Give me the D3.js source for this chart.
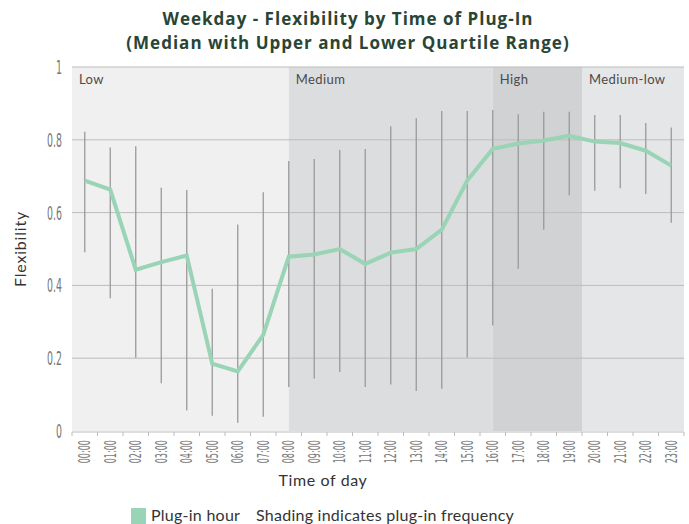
<!DOCTYPE html>
<html>
<head>
<meta charset="utf-8">
<script src="https://cdn.jsdelivr.net/npm/d3@7"></script>
<style>
  body { margin: 0; background: #fff; }
  svg { display: block; font-family: Lato, "Open Sans", sans-serif; }
</style>
</head>
<body>
<div id="chart"></div>
<script>
/** Data **/
const hours = ['00:00', '01:00', '02:00', '03:00', '04:00', '05:00', '06:00', '07:00',
  '08:00', '09:00', '10:00', '11:00', '12:00', '13:00', '14:00', '15:00',
  '16:00', '17:00', '18:00', '19:00', '20:00', '21:00', '22:00', '23:00'];
const median = [0.688, 0.663, 0.443, 0.464, 0.482, 0.185, 0.164, 0.264,
  0.479, 0.485, 0.5, 0.459, 0.49, 0.5, 0.553, 0.688,
  0.775, 0.79, 0.798, 0.811, 0.795, 0.791, 0.77, 0.729];
const upper = [0.822, 0.779, 0.782, 0.668, 0.662, 0.391, 0.567, 0.656,
  0.742, 0.747, 0.772, 0.775, 0.837, 0.859, 0.879, 0.879,
  0.882, 0.87, 0.877, 0.877, 0.868, 0.868, 0.846, 0.834];
const lower = [0.491, 0.365, 0.201, 0.131, 0.056, 0.042, 0.023, 0.039,
  0.121, 0.144, 0.162, 0.121, 0.128, 0.11, 0.116, 0.202,
  0.29, 0.446, 0.553, 0.648, 0.66, 0.667, 0.651, 0.572];
// plug-in frequency bands, in hour-slot units (0 = left edge of 00:00 slot)
const bandNames = ['Low', 'Medium', 'High', 'Medium-low'];
const bandStart = [0, 8.5, 16.5, 20];
const bandEnd = [8.5, 16.5, 20, 24];
const bandColors = ['#f0f0f0', '#dcdddf', '#d1d2d4', '#e5e6e8'];
const yTicks = [0, 0.2, 0.4, 0.6, 0.8, 1];

/** Chart setup **/
const width = 689;
const height = 524;
const margin = { top: 67, right: 5, bottom: 93, left: 72 };

const svg = d3.select('#chart')
  .append('svg')
  .attr('width', width)
  .attr('height', height);

const x = d3.scaleBand().domain(hours).range([margin.left, width - margin.right]).padding(0);
const xs = d3.scaleLinear().domain([0, hours.length]).range([margin.left, width - margin.right]);
const y = d3.scaleLinear().domain([0, 1]).range([height - margin.bottom, margin.top]);
const cx = (h) => x(h) + x.bandwidth() / 2;

const data = hours.map((h, i) => ({ h, median: median[i], upper: upper[i], lower: lower[i] }));
const bands = bandNames.map((name, i) => ({ name, start: bandStart[i], end: bandEnd[i], color: bandColors[i] }));

/** Shading **/
svg.append('g')
  .selectAll('rect')
  .data(bands)
  .join('rect')
  .attr('x', (d) => xs(d.start))
  .attr('width', (d) => xs(d.end) - xs(d.start))
  .attr('y', y(1))
  .attr('height', y(0) - y(1))
  .attr('fill', (d) => d.color);

svg.append('g')
  .selectAll('text')
  .data(bands)
  .join('text')
  .attr('x', (d) => xs(d.start) + 7)
  .attr('y', y(1) + 17)
  .attr('font-size', 13)
  .attr('letter-spacing', 0.4)
  .attr('fill', '#4a4a4a')
  .text((d) => d.name);

/** Gridlines and y axis **/
svg.append('g')
  .selectAll('line')
  .data(yTicks.filter((d) => d > 0))
  .join('line')
  .attr('x1', margin.left)
  .attr('x2', width - margin.right)
  .attr('y1', (d) => y(d))
  .attr('y2', (d) => y(d))
  .attr('stroke', '#bcbcbc')
  .attr('stroke-width', 1);

svg.append('g')
  .selectAll('text')
  .data(yTicks)
  .join('text')
  .attr('transform', (d) => `translate(62, ${y(d) + 7}) scale(0.55, 1)`)
  .attr('text-anchor', 'end')
  .attr('font-family', '"DejaVu Sans Condensed", "DejaVu Sans", sans-serif')
  .attr('font-size', 19)
  .attr('fill', '#777')
  .text((d) => d3.format('~g')(d));

/** x axis **/
const xAxis = svg.append('g').attr('transform', `translate(0, ${y(0) + 1})`);
xAxis.append('line')
  .attr('x1', margin.left)
  .attr('x2', width - margin.right)
  .attr('stroke', '#bcbcbc');
xAxis.selectAll('.tick')
  .data(d3.range(hours.length + 1))
  .join('line')
  .attr('x1', (d) => xs(d))
  .attr('x2', (d) => xs(d))
  .attr('y1', 0)
  .attr('y2', 4)
  .attr('stroke', '#bcbcbc');
xAxis.selectAll('text')
  .data(hours)
  .join('text')
  .attr('transform', (d) => `translate(${cx(d)}, 8) rotate(-90) scale(0.6, 1)`)
  .attr('text-anchor', 'end')
  .attr('dy', '0.36em')
  .attr('font-family', '"DejaVu Sans Condensed", "DejaVu Sans", sans-serif')
  .attr('font-size', 15)
  .attr('fill', '#777')
  .text((d) => d);

/** Whiskers **/
svg.append('g')
  .selectAll('line')
  .data(data)
  .join('line')
  .attr('x1', (d) => cx(d.h))
  .attr('x2', (d) => cx(d.h))
  .attr('y1', (d) => y(d.lower))
  .attr('y2', (d) => y(d.upper))
  .attr('stroke', '#9a9a9a')
  .attr('stroke-width', 1.3);

/** Median line **/
svg.append('path')
  .datum(data)
  .attr('fill', 'none')
  .attr('stroke', '#98d4b5')
  .attr('stroke-width', 4)
  .attr('d', d3.line().x((d) => cx(d.h)).y((d) => y(d.median)));

/** Titles **/
const title = svg.append('text')
  .attr('text-anchor', 'middle')
  .attr('font-family', '"Open Sans", Lato, sans-serif')
  .attr('font-weight', 'bold')
  .attr('font-size', 17)
  .attr('letter-spacing', 1)
  .attr('fill', '#284536');
title.append('tspan').attr('x', 348).attr('y', 25).text('Weekday - Flexibility by Time of Plug-In');
title.append('tspan').attr('x', 348).attr('y', 49).text('(Median with Upper and Lower Quartile Range)');

svg.append('text')
  .attr('x', 323)
  .attr('y', 486)
  .attr('text-anchor', 'middle')
  .attr('font-size', 16)
  .attr('letter-spacing', 0.6)
  .attr('fill', '#333')
  .text('Time of day');

svg.append('text')
  .attr('transform', `translate(26, ${(y(0) + y(1)) / 2}) rotate(-90)`)
  .attr('text-anchor', 'middle')
  .attr('font-size', 16)
  .attr('letter-spacing', 0.8)
  .attr('fill', '#333')
  .text('Flexibility');

/** Legend **/
const legend = svg.append('g');
legend.append('rect')
  .attr('x', 131)
  .attr('y', 508)
  .attr('width', 15)
  .attr('height', 16)
  .attr('fill', '#98d4b5');
legend.append('text')
  .attr('x', 151)
  .attr('y', 521)
  .attr('font-size', 16)
  .attr('letter-spacing', 0.25)
  .attr('fill', '#333')
  .text('Plug-in hour');
legend.append('text')
  .attr('x', 256)
  .attr('y', 521)
  .attr('font-size', 16)
  .attr('letter-spacing', 0.25)
  .attr('fill', '#333')
  .text('Shading indicates plug-in frequency');
</script>
</body>
</html>
